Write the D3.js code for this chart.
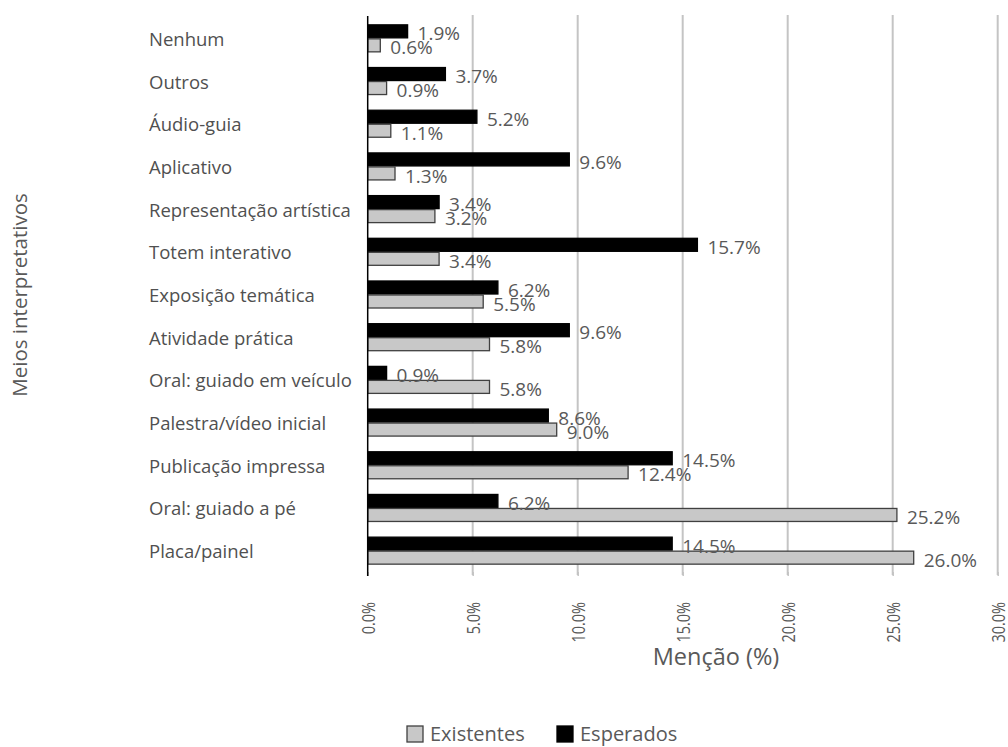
<!DOCTYPE html>
<html>
<head>
<meta charset="utf-8">
<script src="https://cdn.jsdelivr.net/npm/d3@7"></script>
<style>
  body { margin: 0; background: #fff; }
  svg { display: block; }
  text { font-family: "Open Sans", "Noto Sans", sans-serif; }
</style>
</head>
<body>
<svg id="chart" width="1008" height="747"></svg>
<script>
const categories = [
  "Nenhum", "Outros", "Áudio-guia", "Aplicativo", "Representação artística",
  "Totem interativo", "Exposição temática", "Atividade prática",
  "Oral: guiado em veículo", "Palestra/vídeo inicial", "Publicação impressa",
  "Oral: guiado a pé", "Placa/painel"
];
const existentes = [0.6, 0.9, 1.1, 1.3, 3.2, 3.4, 5.5, 5.8, 5.8, 9.0, 12.4, 25.2, 26.0];
const esperados  = [1.9, 3.7, 5.2, 9.6, 3.4, 15.7, 6.2, 9.6, 0.9, 8.6, 14.5, 6.2, 14.5];
const xTicks = [0, 5, 10, 15, 20, 25, 30];
const seriesNames = ["Esperados", "Existentes"];
const legendNames = ["Existentes", "Esperados"];

const svg = d3.select("#chart");
const pLeft = 367.7, pRight = 997.7, pTop = 17, pBottom = 572;

const x = d3.scaleLinear().domain([0, 30]).range([pLeft, pRight]);
const y = d3.scaleBand().domain(categories).range([pTop, pBottom]).paddingInner(0.344).paddingOuter(0.172);
const ySub = d3.scaleBand().domain(seriesNames).range([0, y.bandwidth()]);

const fills = { Esperados: "#000000", Existentes: "#c8c8c8" };
const strokes = { Esperados: "#000000", Existentes: "#404040" };
const textCol = "#595959";

// gridlines
svg.append("g").selectAll("line").data(xTicks.filter(d => d > 0)).join("line")
  .attr("x1", d => x(d)).attr("x2", d => x(d))
  .attr("y1", pTop - 2).attr("y2", pBottom + 3)
  .attr("stroke", "#c4c4c4").attr("stroke-width", 2);

// x axis ticks + labels
const xAxis = d3.axisBottom(x).tickValues(xTicks).tickSize(4).tickFormat(d => d.toFixed(1) + "%");
const gx = svg.append("g").attr("transform", `translate(0,${pBottom})`).call(xAxis);
gx.select(".domain").remove();
gx.selectAll(".tick line").attr("stroke", "#c4c4c4").attr("stroke-width", 1.5);
gx.selectAll(".tick text")
  .attr("transform", "rotate(-90) scale(1,1.3)")
  .attr("x", -30).attr("y", 0).attr("dy", "0.35em")
  .attr("text-anchor", "end")
  .attr("fill", textCol).style("font-size", "14.5px");

// bars
const rows = categories.map((c, i) => ({ c, Esperados: esperados[i], Existentes: existentes[i] }));
const groups = svg.append("g").selectAll("g").data(rows).join("g")
  .attr("transform", d => `translate(0,${y(d.c)})`);

groups.selectAll("rect").data(d => seriesNames.map(s => ({ s, v: d[s] }))).join("rect")
  .attr("x", x(0))
  .attr("y", d => ySub(d.s) + 0.5)
  .attr("width", d => x(d.v) - x(0))
  .attr("height", ySub.bandwidth() - 1)
  .attr("fill", d => fills[d.s])
  .attr("stroke", d => strokes[d.s]).attr("stroke-width", 1.3);

groups.selectAll("text.val").data(d => seriesNames.map(s => ({ s, v: d[s] }))).join("text")
  .attr("class", "val")
  .attr("x", d => x(d.v) + 10)
  .attr("y", d => ySub(d.s) + ySub.bandwidth() / 2 + 2.5)
  .attr("dy", "0.35em")
  .attr("fill", textCol).style("font-size", "19px")
  .text(d => d.v.toFixed(1) + "%");

// y axis line
svg.append("line").attr("x1", x(0)).attr("x2", x(0))
  .attr("y1", pTop - 1).attr("y2", pBottom + 4)
  .attr("stroke", "#000").attr("stroke-width", 1.5);

// category labels
svg.append("g").selectAll("text").data(categories).join("text")
  .attr("x", 149).attr("y", d => y(d) + y.bandwidth() / 2 + 1)
  .attr("dy", "0.35em")
  .attr("fill", "#505050").style("font-size", "18.5px")
  .text(d => d);

// axis titles
svg.append("text").attr("x", 716).attr("y", 657).attr("dy", "0.35em")
  .attr("text-anchor", "middle").attr("fill", textCol).style("font-size", "23.5px")
  .text("Menção (%)");
svg.append("text").attr("transform", "translate(20,295) rotate(-90)").attr("dy", "0.35em")
  .attr("text-anchor", "middle").attr("fill", textCol).style("font-size", "20.5px")
  .text("Meios interpretativos");

// legend
const legend = svg.append("g").attr("transform", "translate(407,733)");
const legX = { Existentes: 0, Esperados: 150 };
legend.selectAll("rect").data(legendNames).join("rect")
  .attr("x", d => legX[d]).attr("y", -7).attr("width", 16).attr("height", 16)
  .attr("fill", d => fills[d]).attr("stroke", d => strokes[d]).attr("stroke-width", 1.3);
legend.selectAll("text").data(legendNames).join("text")
  .attr("x", d => legX[d] + 23).attr("y", 1).attr("dy", "0.35em")
  .attr("fill", textCol).style("font-size", "20px")
  .text(d => d);
</script>
</body>
</html>
